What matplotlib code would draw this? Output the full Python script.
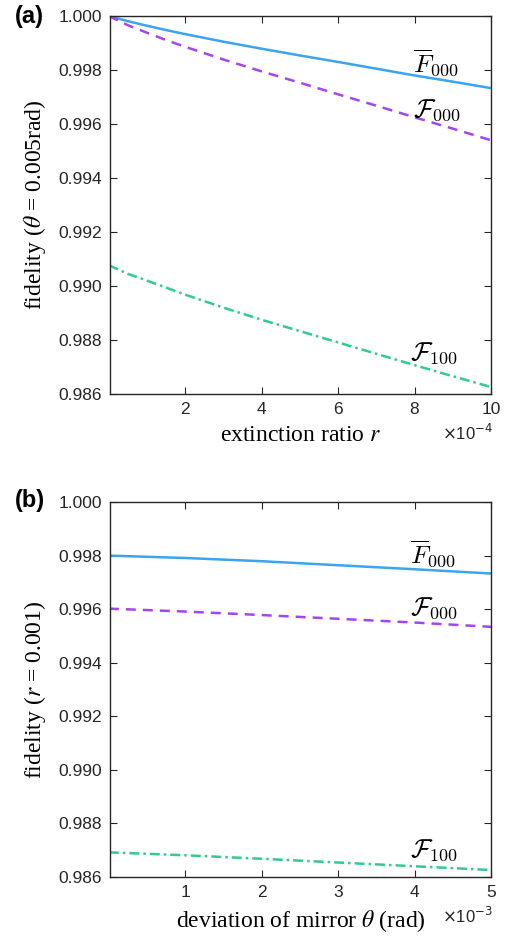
import numpy as np
import matplotlib
matplotlib.use("Agg")
import matplotlib.pyplot as plt
from matplotlib.ticker import FormatStrFormatter

# panel (a): fidelity vs extinction ratio r (r in units of 1e-4), theta = 0.005 rad
r_e4 = [0, 0.5, 1, 1.5, 2, 3, 4, 5, 6, 7, 8, 9, 10]
a_Fbar000 = [1.0000, 0.99981, 0.99964, 0.99948, 0.99933, 0.99905, 0.99879, 0.99854, 0.99830, 0.99805, 0.99780, 0.99757, 0.99733]
a_F000 = [1.0000, 0.99966, 0.99938, 0.99911, 0.99886, 0.99839, 0.99795, 0.99753, 0.99710, 0.99668, 0.99625, 0.99583, 0.99540]
a_F100 = [0.99077, 0.99045, 0.99020, 0.98994, 0.98968, 0.98920, 0.98875, 0.98833, 0.98791, 0.98749, 0.98707, 0.98666, 0.98626]

# panel (b): fidelity vs mirror deviation theta (units of 1e-3 rad), r = 0.001
theta_e3 = [0, 1, 2, 3, 4, 5]
b_Fbar000 = [0.99800, 0.99791, 0.99779, 0.99764, 0.99749, 0.99733]
b_F000 = [0.99602, 0.99591, 0.99578, 0.99564, 0.99550, 0.99534]
b_F100 = [0.98692, 0.98681, 0.98668, 0.98654, 0.98640, 0.98626]

yticks = [0.986, 0.988, 0.990, 0.992, 0.994, 0.996, 0.998, 1.000]

c_blue = "#3aa4ee"
c_purple = "#a445f2"
c_green = "#2fcc8e"
axcol = "#262626"

plt.rcParams["font.family"] = ["Liberation Sans", "DejaVu Sans"]

fig = plt.figure(figsize=(5.13, 9.44), dpi=100)
ax1 = fig.add_axes([0.2144, 0.5826, 0.7427, 0.4004])
ax2 = fig.add_axes([0.2144, 0.0710, 0.7427, 0.3972])

def style(ax, xticks, xlim):
    ax.set_xlim(*xlim)
    ax.set_ylim(0.986, 1.000)
    ax.set_xticks(xticks)
    ax.set_yticks(yticks)
    ax.yaxis.set_major_formatter(FormatStrFormatter("%.3f"))
    ax.tick_params(direction="in", top=True, right=True, length=5, width=0.8,
                   labelsize=12.5, colors=axcol, pad=5.5)
    for s in ax.spines.values():
        s.set_color(axcol)
        s.set_linewidth(1.0)

def lines(ax, x, fbar, f0, f1):
    ax.plot(x, fbar, color=c_blue, lw=1.8, solid_capstyle="butt")
    ax.plot(x, f0, color=c_purple, lw=1.8, dashes=(4.0, 2.8))
    ax.plot(x, f1, color=c_green, lw=1.8, dashes=(4.0, 1.6, 1.0, 1.6))

lines(ax1, r_e4, a_Fbar000, a_F000, a_F100)
style(ax1, [2, 4, 6, 8, 10], (0.03, 10))
lines(ax2, theta_e3, b_Fbar000, b_F000, b_F100)
style(ax2, [1, 2, 3, 4, 5], (0.015, 5))

serif = dict(family="Liberation Serif", fontsize=17, math_fontfamily="stix")
ax1.set_ylabel(r"fidelity ($\theta$ = 0.005rad)", labelpad=8, **serif)
ax1.set_xlabel(r"extinction ratio $r$", labelpad=6, **serif)
ax2.set_ylabel(r"fidelity ($r$ = 0.001)", labelpad=8, **serif)
ax2.set_xlabel(r"deviation of mirror $\theta$ (rad)", labelpad=6, **serif)

ax1.text(1.006, -0.122, r"$\times$10$^{-4}$", transform=ax1.transAxes, ha="right",
         va="baseline", fontsize=12, color=axcol, math_fontfamily="dejavusans")
ax2.text(1.006, -0.124, r"$\times$10$^{-3}$", transform=ax2.transAxes, ha="right",
         va="baseline", fontsize=12, color=axcol, math_fontfamily="dejavusans")

lab = dict(fontsize=18.5, math_fontfamily="cm", va="baseline", ha="left")
ax1.text(0.795, 0.849, r"$\overline{F}_{000}$", transform=ax1.transAxes, **lab)
ax1.text(0.795, 0.733, r"$\mathcal{F}_{000}$", transform=ax1.transAxes, **lab)
ax1.text(0.788, 0.090, r"$\mathcal{F}_{100}$", transform=ax1.transAxes, **lab)
ax2.text(0.787, 0.837, r"$\overline{F}_{000}$", transform=ax2.transAxes, **lab)
ax2.text(0.787, 0.699, r"$\mathcal{F}_{000}$", transform=ax2.transAxes, **lab)
ax2.text(0.787, 0.053, r"$\mathcal{F}_{100}$", transform=ax2.transAxes, **lab)

fig.text(0.029, 0.982, "(a)", fontsize=17, fontweight="bold", va="center", ha="left")
fig.text(0.029, 0.470, "(b)", fontsize=17, fontweight="bold", va="center", ha="left")

fig.savefig("out.png", dpi=100)
